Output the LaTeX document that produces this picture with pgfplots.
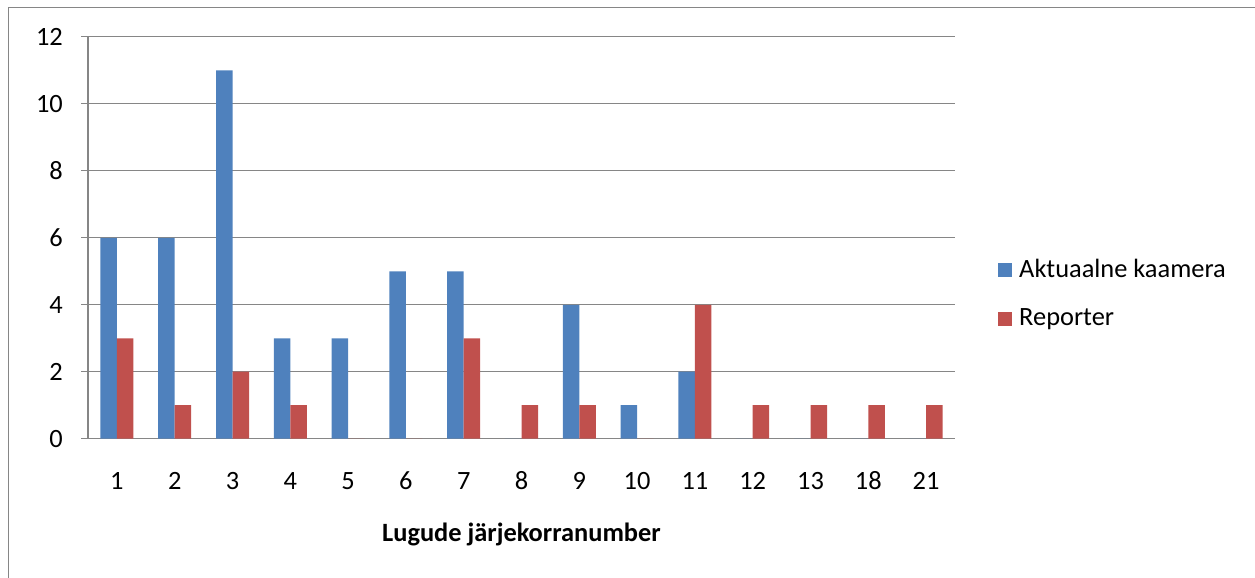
\documentclass[border=0pt]{standalone}
\usepackage{fontspec}
\setmainfont{Carlito}
\usepackage{pgfplots}
\pgfplotsset{compat=1.18}
\definecolor{cblue}{HTML}{4F81BD}
\definecolor{cred}{HTML}{C0504D}
\definecolor{cgrid}{HTML}{868686}
\begin{document}
\fontsize{26.5}{31}\selectfont
\begin{tikzpicture}
\useasboundingbox (0bp,0bp) rectangle (1255bp,578bp);
\draw[cgrid, line width=1.5bp] (8.5bp,-5bp) -- (8.5bp,570.5bp) -- (1260bp,570.5bp);
\begin{axis}[
  at={(88bp,139.3bp)}, anchor=south west, scale only axis,
  width=867bp, height=401.7bp,
  ymin=0, ymax=12, ytick={0,2,...,12},
  xmin=0.5, xmax=15.5, xtick={1,...,15},
  xticklabels={1,2,3,4,5,6,7,8,9,10,11,12,13,18,21},
  axis x line*=bottom, axis y line*=left,
  axis line style={cgrid, line width=1.3bp, -},
  ymajorgrids, grid style={cgrid, line width=1bp},
  tick align=outside, major tick length=7bp,
  ytick style={cgrid, line width=1bp},
  xtick style={draw=none},
  ybar=0pt, bar width=16.5bp,
  enlargelimits=false,
  /pgf/number format/assume math mode=true,
  yticklabel style={anchor=east, inner sep=0pt, xshift=-18bp},
  xticklabel style={anchor=center, inner sep=0pt, yshift=-35bp},
  xlabel={\textbf{Lugude järjekorranumber}},
  xlabel style={at={(axis description cs:0.5,0)}, anchor=center, yshift=-96bp},
  legend style={at={(axis description cs:1.0496,0.36)}, anchor=west, draw=none, fill=none,
    inner sep=0pt, row sep=27bp, column sep=7bp, nodes={inner sep=0pt, anchor=west}},
  legend cell align=left,
  legend image code/.code={\fill[#1] (0bp,-7bp) rectangle (14bp,7bp);},
]
\addplot[fill=cblue, draw=none] coordinates {(1,6)(2,6)(3,11)(4,3)(5,3)(6,5)(7,5)(8,0)(9,4)(10,1)(11,2)(12,0)(13,0)(14,0)(15,0)};
\addplot[fill=cred, draw=none] coordinates {(1,3)(2,1)(3,2)(4,1)(5,0)(6,0)(7,3)(8,1)(9,1)(10,0)(11,4)(12,1)(13,1)(14,1)(15,1)};
\legend{Aktuaalne kaamera, Reporter}
\end{axis}
\end{tikzpicture}
\end{document}
